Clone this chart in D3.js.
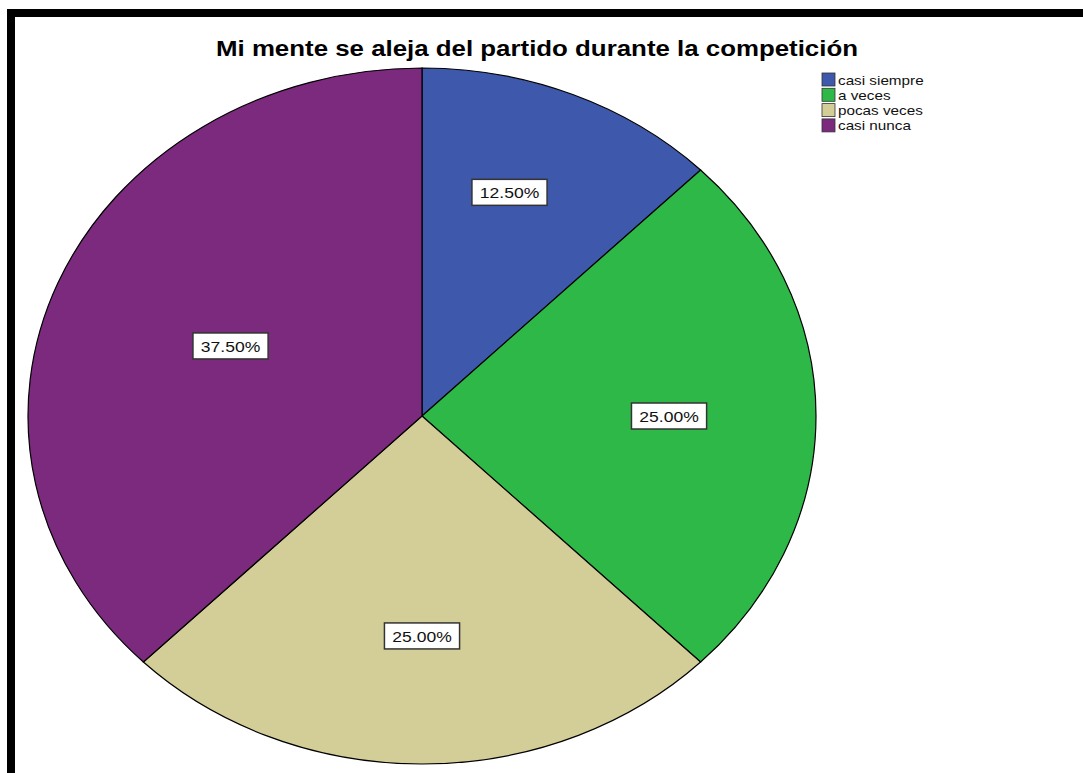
<!DOCTYPE html>
<html>
<head>
<meta charset="utf-8">
<script src="https://cdn.jsdelivr.net/npm/d3@7"></script>
<style>
  html, body { margin: 0; padding: 0; background: #fff; }
  svg { display: block; }
  text { font-family: "Liberation Sans", Arial, sans-serif; }
</style>
</head>
<body>
<svg id="chart" width="1083" height="773"></svg>
<script>
// ---- data ----
const title = "Mi mente se aleja del partido durante la competición";
const categories = ["casi siempre", "a veces", "pocas veces", "casi nunca"];
const values = [12.5, 25.0, 25.0, 37.5];
const labels = ["12.50%", "25.00%", "25.00%", "37.50%"];
const colors = ["#3E58AC", "#2EB848", "#D3CE97", "#7B2A7E"];
// label distance from centre as fraction of radius (layout)
const labelRadiusFrac = [0.68, 0.627, 0.632, 0.526];

// ---- layout ----
const W = 1083, H = 773;
const cx = 422, cy = 416, rx = 394, ry = 348;
const stretch = 1.13; // horizontal stretch of original rendering

const svg = d3.select("#chart");

// frame
svg.append("rect").attr("x", 7).attr("y", 9).attr("width", W - 7).attr("height", 8).attr("fill", "#000");
svg.append("rect").attr("x", 7).attr("y", 9).attr("width", 8).attr("height", H - 9).attr("fill", "#000");

function stretchText(sel) {
  sel.each(function () {
    const w = this.getComputedTextLength();
    d3.select(this).attr("textLength", w * stretch).attr("lengthAdjust", "spacingAndGlyphs");
  });
}

// title
svg.append("text")
  .attr("x", 537).attr("y", 56)
  .attr("text-anchor", "middle")
  .attr("font-size", 22).attr("font-weight", "bold")
  .attr("fill", "#000")
  .attr("textLength", 642).attr("lengthAdjust", "spacingAndGlyphs")
  .text(title);

// pie
const pie = d3.pie().sort(null).value(d => d)(values);
const arc = d3.arc().innerRadius(0).outerRadius(rx);

const g = svg.append("g").attr("transform", `translate(${cx},${cy}) scale(1,${ry / rx})`);
g.selectAll("path").data(pie).join("path")
  .attr("d", arc)
  .attr("fill", (d, i) => colors[i])
  .attr("stroke", "#000")
  .attr("stroke-width", 1.2)
  .attr("vector-effect", "non-scaling-stroke");

// labels
const lg = svg.append("g");
pie.forEach((d, i) => {
  const a = (d.startAngle + d.endAngle) / 2 - (i === 0 ? 0.06 : 0);
  const f = labelRadiusFrac[i];
  const x = cx + Math.sin(a) * rx * f;
  const y = cy - Math.cos(a) * ry * f;
  const grp = lg.append("g").attr("transform", `translate(${x},${y})`);
  const rect = grp.append("rect");
  const t = grp.append("text")
    .attr("text-anchor", "middle")
    .attr("dy", "0.36em")
    .attr("font-size", 15.5)
    .attr("fill", "#111")
    .text(labels[i])
    .call(stretchText);
  const tw = t.node().getComputedTextLength() * stretch;
  const bw = tw + 8, bh = 26;
  rect.attr("x", -bw / 2).attr("y", -bh / 2).attr("width", bw).attr("height", bh)
    .attr("fill", "#fff").attr("stroke", "#333").attr("stroke-width", 1.5);
});

// legend
const leg = svg.append("g").attr("transform", "translate(822,73)");
categories.forEach((c, i) => {
  const row = leg.append("g").attr("transform", `translate(0,${i * 15.3})`);
  row.append("rect").attr("x", 0).attr("y", 0).attr("width", 13).attr("height", 13)
    .attr("fill", colors[i]).attr("stroke", "#333").attr("stroke-width", 0.8);
  row.append("text").attr("x", 16).attr("y", 11.5)
    .attr("font-size", 13.5).attr("fill", "#111")
    .text(c).call(stretchText);
});
</script>
</body>
</html>
